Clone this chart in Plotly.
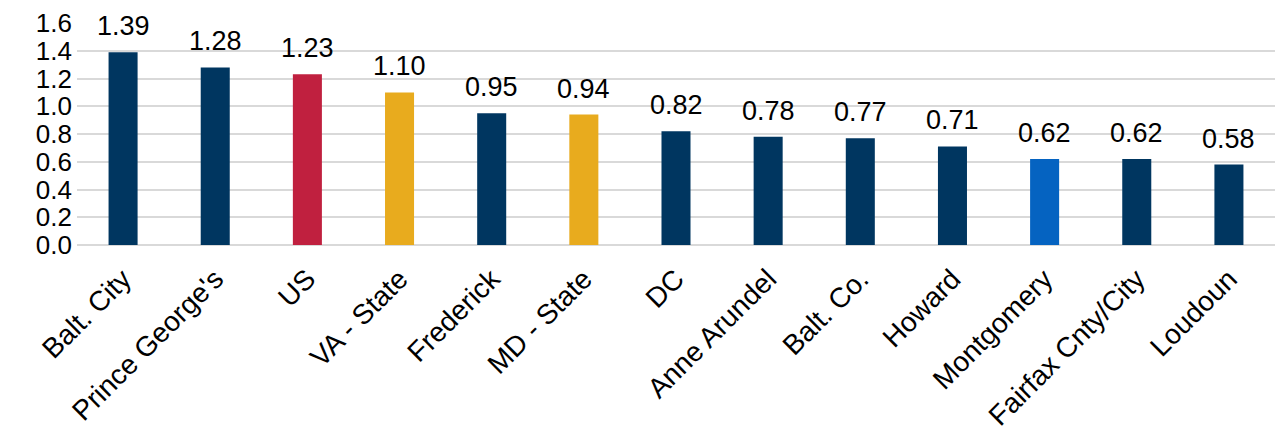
import plotly.graph_objects as go

categories = ["Balt. City", "Prince George's", "US", "VA - State", "Frederick", "MD - State",
              "DC", "Anne Arundel", "Balt. Co.", "Howard", "Montgomery", "Fairfax Cnty/City", "Loudoun"]
values = [1.39, 1.28, 1.23, 1.10, 0.95, 0.94, 0.82, 0.78, 0.77, 0.71, 0.62, 0.62, 0.58]
labels = ["1.39", "1.28", "1.23", "1.10", "0.95", "0.94", "0.82", "0.78", "0.77", "0.71", "0.62", "0.62", "0.58"]
color_map = {"US": "#C0203F", "VA - State": "#E8AB1E", "MD - State": "#E8AB1E", "Montgomery": "#0563C1"}
colors = [color_map.get(c, "#003660") for c in categories]

font = "Liberation Sans, Arial, sans-serif"

fig = go.Figure(go.Bar(x=categories, y=values, marker=dict(color=colors, line=dict(width=0)),
                       width=0.315))

for c, v, t in zip(categories, values, labels):
    fig.add_annotation(x=c, y=v, text=t, showarrow=False, yanchor="bottom", yshift=9,
                       font=dict(family=font, size=27, color="#000000"))

fig.update_layout(
    width=1280, height=434,
    margin=dict(l=77, r=5, t=23, b=189, autoexpand=False),
    plot_bgcolor="white", paper_bgcolor="white",
    showlegend=False,
    font=dict(family=font, size=27, color="#000000"),
    xaxis=dict(tickangle=-45, showgrid=False, showline=False, ticks="", tickfont=dict(size=28),
               ticklabelstandoff=11, automargin=False),
    yaxis=dict(range=[0, 1.6], dtick=0.2, tickformat=".1f", showgrid=True, gridcolor="#D9D9D9",
               gridwidth=1.5, zeroline=True, zerolinecolor="#D9D9D9", zerolinewidth=1.5,
               showline=False, ticks="", tickfont=dict(size=26), ticklabelstandoff=4,
               automargin=False),
)

fig.write_html("out.html")
